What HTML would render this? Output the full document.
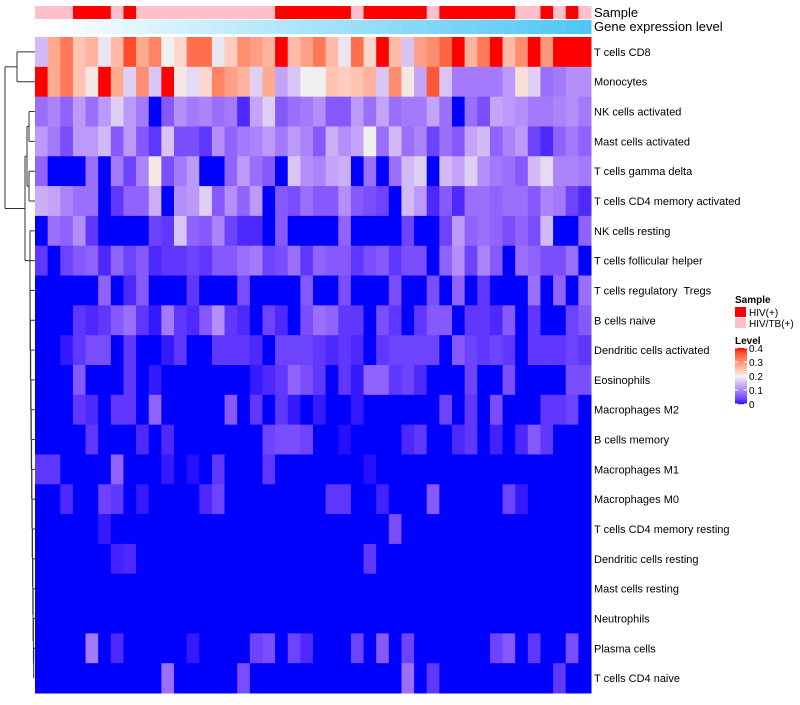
<!DOCTYPE html>
<html><head><meta charset="utf-8">
<style>
body{margin:0;background:#fff;font-family:"Liberation Sans",sans-serif;}
svg text{font-family:"Liberation Sans",sans-serif;white-space:pre;}
</style></head>
<body>
<svg id="chart" width="800" height="700" xmlns="http://www.w3.org/2000/svg">
<g id="dendro" stroke="#333" stroke-width="1" fill="none"></g>
<g id="ann"></g>
<g id="cells"></g>
<g id="labels" font-size="11" fill="#000"></g>
<text x="594" y="17" font-size="13">Sample</text>
<text x="594" y="31" font-size="13">Gene expression level</text>
<g id="legend"></g>
</svg>
<script>
const rowNames=["T cells CD8","Monocytes","NK cells activated","Mast cells activated","T cells gamma delta","T cells CD4 memory activated","NK cells resting","T cells follicular helper","T cells regulatory  Tregs","B cells naive","Dendritic cells activated","Eosinophils","Macrophages M2","B cells memory","Macrophages M1","Macrophages M0","T cells CD4 memory resting","Dendritic cells resting","Mast cells resting","Neutrophils","Plasma cells","T cells CD4 naive"];
const sampleGroups="PPPRRRPRPPPPPPPPPPPRRRRRRPRRRRRPRRRRRRPPRPRP".split("");
const legendTicks=[0,0.1,0.2,0.3,0.4];
const sampleLegend=["HIV(+)","HIV/TB(+)"];
const z=Array(44).fill(0);
function sparse(m){const a=z.slice();for(const k in m)a[k-1]=m[k];return a;}
const r1=[0.15,0.28,0.33,0.25,0.27,0.19,0.26,0.37,0.28,0.32,0.2,0.23,0.34,0.34,0.19,0.24,0.31,0.29,0.27,0.4,0.26,0.29,0.33,0.26,0.19,0.34,0.23,0.4,0.26,0.16,0.29,0.31,0.35,0.4,0.27,0.33,0.4,0.26,0.31,0.4,0.3,0.4,0.4,0.4];
const r2=[0.4,0.28,0.33,0.25,0.21,0.4,0.28,0.17,0.31,0.16,0.4,0.21,0.18,0.23,0.32,0.29,0.27,0.17,0.28,0.13,0.16,0.2,0.2,0.25,0.24,0.25,0.27,0.16,0.31,0.21,0.13,0.36,0.16,0.09,0.09,0.09,0.09,0.12,0.22,0.17,0.08,0.09,0.11,0.11];
const r3=[0.08,0.1,0.07,0.12,0.08,0.12,0.17,0.12,0.09,0,0.06,0.11,0.09,0.1,0.08,0.09,0.02,0.13,0.17,0.06,0.08,0.09,0.11,0.06,0.06,0.12,0.08,0.13,0.08,0.09,0.09,0.13,0.08,0,0.08,0.05,0.13,0.12,0.11,0.09,0.09,0.1,0.11,0.09];
const r4=[0.12,0.09,0.05,0.12,0.12,0.15,0.06,0.12,0.06,0.03,0.16,0.05,0.05,0.03,0.11,0.07,0.09,0.1,0.12,0.09,0.12,0.1,0.06,0.14,0.11,0.13,0.2,0.08,0.15,0.08,0.1,0.04,0.08,0.06,0.13,0.15,0.07,0.1,0.12,0.04,0.02,0.07,0.09,0.07];
const r5=[0.07,0,0,0,0.08,0,0.09,0.04,0.1,0.21,0.05,0.09,0.12,0,0,0.07,0.12,0.08,0.06,0,0.16,0.11,0.1,0.13,0.14,0,0.08,0,0.08,0.15,0.17,0,0.15,0.13,0.17,0.11,0.09,0.08,0.06,0.15,0.18,0.1,0.1,0.09];
const r6=[0.14,0.13,0.1,0.08,0.08,0,0.03,0.07,0.07,0.14,0,0.11,0.12,0.17,0.06,0.11,0.07,0.12,0,0.06,0.05,0.08,0.06,0.06,0.11,0.06,0.05,0.04,0,0.15,0.12,0.02,0.06,0.02,0.08,0.08,0.07,0.08,0.08,0.06,0.1,0.09,0.04,0.02];
const r7=[0,0.08,0.07,0.11,0.03,0,0,0,0,0.04,0.03,0.16,0.07,0.06,0.1,0.04,0.02,0.02,0,0.06,0,0,0,0,0.07,0,0,0,0,0.04,0,0,0.04,0.12,0.07,0.08,0.07,0.05,0.07,0.05,0.15,0,0,0.07];
const r8=[0.03,0,0.04,0.06,0.07,0.02,0.07,0.04,0.06,0.02,0.03,0.03,0.04,0.03,0.06,0.06,0.08,0.09,0.04,0.05,0.08,0.03,0.07,0.06,0.06,0.03,0.05,0.06,0.03,0.05,0.05,0,0.07,0.11,0.04,0.1,0.06,0,0.08,0.07,0.05,0.05,0.08,0];
const r9=[0,0,0,0,0,0.07,0,0.02,0.06,0,0,0,0.03,0,0,0,0.05,0,0,0,0,0.06,0,0,0.05,0,0,0,0.05,0,0,0.05,0,0.07,0,0.03,0,0,0,0.08,0,0.07,0,0.08];
const r10=[0,0,0,0.03,0.02,0.03,0.06,0.08,0.03,0.01,0.09,0.03,0.02,0.06,0.11,0.03,0.02,0,0.04,0.02,0,0.05,0.08,0.07,0.03,0.03,0,0.05,0.03,0,0.03,0.06,0.06,0,0.03,0.03,0.02,0.06,0,0.03,0,0,0.04,0.06];
const r11=[0,0,0.01,0.03,0.05,0.05,0,0.03,0,0,0.01,0.03,0,0,0.03,0.03,0.03,0.02,0,0.04,0.04,0.04,0.03,0.02,0.03,0.02,0,0.03,0.04,0.04,0.04,0.04,0,0.06,0.04,0.03,0.04,0.03,0,0.03,0.03,0.03,0.04,0.03];
const r12=[0,0,0,0.06,0,0,0,0.03,0,0.01,0,0,0,0,0,0,0,0.01,0.02,0.03,0.07,0.05,0.03,0,0.03,0.01,0.07,0.07,0.03,0.04,0.02,0,0,0,0.04,0,0,0.05,0,0,0,0,0.05,0.05];
const r13=[0,0,0,0.03,0.02,0,0.03,0.03,0,0.07,0,0,0,0,0,0.06,0,0.03,0,0.03,0.01,0,0.01,0,0,0.01,0,0,0,0,0,0,0.04,0,0.03,0,0.05,0,0,0,0.03,0.03,0.04,0];
const r14=[0,0,0,0,0.03,0,0,0,0.02,0,0.02,0,0,0,0,0,0,0,0.04,0.05,0.05,0.04,0,0,0.005,0,0,0,0,0.02,0.03,0,0,0.02,0.03,0,0.015,0,0.02,0.06,0.03,0,0,0];
const r15=sparse({1:0.03,2:0.03,7:0.07,11:0.01,13:0.005,15:0.03,19:0.03,27:0.005});
const r16=sparse({3:0.02,6:0.04,7:0.03,9:0.01,14:0.02,15:0.04,24:0.03,25:0.03,28:0.015,32:0.06,38:0.04,39:0.01});
const r17=sparse({6:0.01,29:0.05});
const r18=sparse({7:0.015,8:0.02,27:0.03});
const r19=z.slice();
const r20=z.slice();
const r21=sparse({5:0.09,7:0.02,13:0.01,18:0.04,19:0.05,21:0.04,22:0.02,26:0.04,28:0.06,30:0.04,37:0.04,38:0.06,40:0.03,43:0.05});
const r22=sparse({11:0.08,17:0.05,30:0.08,32:0.03,42:0.03});
const values=[r1,r2,r3,r4,r5,r6,r7,r8,r9,r10,r11,r12,r13,r14,r15,r16,r17,r18,r19,r20,r21,r22];

const NS="http://www.w3.org/2000/svg";
const X0=35,X1=591,Y0=37,Y1=693;
const nC=sampleGroups.length,nR=rowNames.length;
const cw=(X1-X0)/nC,rh=(Y1-Y0)/nR;
const xPos=i=>X0+i*cw, yPos=r=>Y0+r*rh;
function mk(t,a,p){const e=document.createElementNS(NS,t);for(const k in a)e.setAttribute(k,a[k]);p.appendChild(e);return e;}
function s2l(c){c/=255;return c<=0.04045?c/12.92:Math.pow((c+0.055)/1.055,2.4);}
function l2s(c){c=c<=0.0031308?12.92*c:1.055*Math.pow(c,1/2.4)-0.055;return Math.max(0,Math.min(255,Math.round(c*255)));}
function toLab(rgb){const [r,g,b]=rgb.map(s2l);let X=(0.4124*r+0.3576*g+0.1805*b)/0.95047,Y=0.2126*r+0.7152*g+0.0722*b,Z=(0.0193*r+0.1192*g+0.9505*b)/1.08883;const f=t=>t>0.008856?Math.cbrt(t):7.787*t+16/116;const fx=f(X),fy=f(Y),fz=f(Z);return [116*fy-16,500*(fx-fy),200*(fy-fz)];}
function fromLab(l){const fy=(l[0]+16)/116,fx=fy+l[1]/500,fz=fy-l[2]/200;const fi=t=>t*t*t>0.008856?t*t*t:(t-16/116)/7.787;const X=fi(fx)*0.95047,Y=fi(fy),Z=fi(fz)*1.08883;const r=3.2406*X-1.5372*Y-0.4986*Z,g=-0.9689*X+1.8758*Y+0.0415*Z,b=0.0557*X-0.2040*Y+1.0570*Z;return "rgb("+l2s(r)+","+l2s(g)+","+l2s(b)+")";}
const LB=toLab([0,0,255]),LW=toLab([240,240,240]),LR=toLab([255,0,0]);
function color(v){v=Math.max(0,Math.min(0.4,v));let a,b,t;if(v<=0.2){a=LB;b=LW;t=v/0.2;}else{a=LW;b=LR;t=(v-0.2)/0.2;}return fromLab(a.map((x,i)=>x+(b[i]-x)*t));}

const cells=document.getElementById('cells');
values.forEach((row,r)=>row.forEach((v,c)=>{
  const e=mk('rect',{x:xPos(c),y:yPos(r),width:cw+0.5,height:rh+0.5,fill:color(v)},cells);
  
  
}));
const ann=document.getElementById('ann');
sampleGroups.forEach((g,c)=>{
  const e=mk('rect',{x:xPos(c),y:6,width:cw+0.5,height:13,fill:g==="R"?"#FF0000":"#FFC0CB"},ann);
  
  
  const t=c/(nC-1);
  const r=Math.round(255+(79-255)*t),gg=Math.round(255+(199-255)*t),b=Math.round(255+(245-255)*t);
  const e2=mk('rect',{x:xPos(c),y:20,width:cw+0.5,height:14,fill:"rgb("+r+","+gg+","+b+")"},ann);
  
  
});
const labels=document.getElementById('labels');
rowNames.forEach((n,r)=>{
  const e=mk('text',{x:594,y:yPos(r)+rh/2+4},labels);e.textContent=n;
  
  
});
const d=document.getElementById('dendro');
const cy=r=>yPos(r)+rh/2;
function seg(x1,y1,x2,y2){mk('line',{x1:x1,y1:y1,x2:x2,y2:y2},d);}
const topY=(cy(0)+cy(1))/2;
seg(17,cy(0),35,cy(0));seg(17,cy(1),35,cy(1));seg(17,cy(0),17,cy(1));
const aY=(cy(2)+cy(5))/2;
seg(29,cy(2),35,cy(2));seg(29,cy(3),35,cy(3));seg(29,cy(2),29,cy(3));
seg(29,cy(4),35,cy(4));seg(29,cy(5),35,cy(5));seg(29,cy(4),29,cy(5));
const a1=(cy(2)+cy(3))/2,a2=(cy(4)+cy(5))/2;
seg(27,a1,29,a1);seg(27,a2,29,a2);seg(27,a1,27,a2);
let prevY=cy(21),xx=34;
for(let r=20;r>=6;r--){const nx=Math.max(30,xx-0.3);seg(nx,cy(r),35,cy(r));seg(xx,prevY,nx,prevY);seg(nx,cy(r),nx,prevY);prevY=(cy(r)+prevY)/2;xx=nx;}
seg(xx,prevY,31,prevY);
const bY=(aY+prevY)/2;
seg(25,aY,27,aY);seg(25,prevY,31,prevY);seg(25,aY,25,prevY);
seg(5,topY,17,topY);seg(5,bY,25,bY);seg(5,topY,5,bY);
const lg=document.getElementById('legend');
let t=mk('text',{x:735,y:303,'font-size':10,'font-weight':'bold'},lg);t.textContent="Sample";

["#FF0000","#FFC0CB"].forEach((c,i)=>{
  const e=mk('rect',{x:735,y:307+i*11,width:11,height:10,fill:c},lg);
  
  
  const tx=mk('text',{x:749,y:316+i*11,'font-size':10},lg);tx.textContent=sampleLegend[i];
  
  
});
t=mk('text',{x:735,y:344,'font-size':10,'font-weight':'bold'},lg);t.textContent="Level";

const barTop=348,barBot=404;
for(let i=0;i<56;i++){const v=0.4*(1-i/56);const e=mk('rect',{x:735,y:barTop+i,width:12,height:1.2,fill:color(v)},lg);
  }
legendTicks.forEach(v=>{
  const y=barBot-(v/0.4)*(barBot-barTop);
  mk('line',{x1:735,y1:y,x2:738,y2:y,stroke:'#fff'},lg);mk('line',{x1:744,y1:y,x2:747,y2:y,stroke:'#fff'},lg);
  const tx=mk('text',{x:749,y:y+4,'font-size':10},lg);tx.textContent=v===0?"0":v.toFixed(1);
  
  
});
</script>
</body></html>
